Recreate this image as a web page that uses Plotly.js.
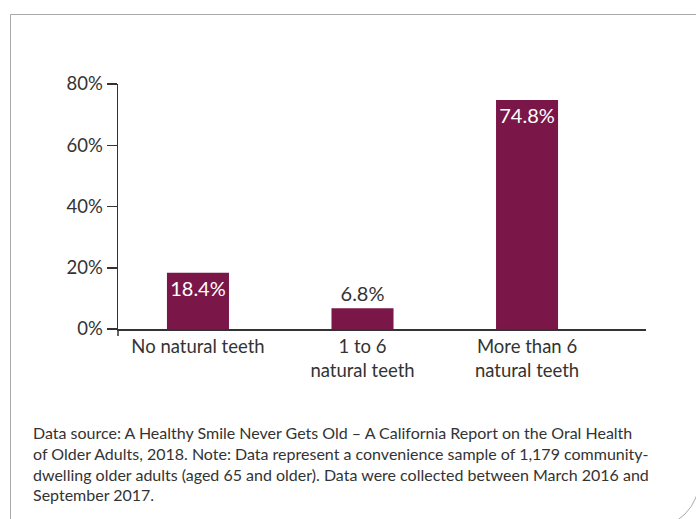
<!DOCTYPE html>
<html>
<head>
<meta charset="utf-8">
<script src="https://cdn.plot.ly/plotly-3.0.1.min.js"></script>
<style>
  html, body { margin: 0; padding: 0; width: 696px; height: 519px; overflow: hidden; background: #fff; }
  #frame {
    position: absolute; left: 10px; top: 14px; width: 690px; height: 515px;
    box-sizing: border-box; border: 1.5px solid #aaaaaa;
    border-bottom-right-radius: 50px; pointer-events: none;
  }
  #chart { position: absolute; left: 0; top: 0; width: 696px; height: 519px; }
</style>
</head>
<body>
<div id="chart"></div>
<div id="frame"></div>
<script>
// Natural teeth remaining among older adults (percent of sample)
const categories = ['No natural teeth', '1 to 6<br>natural teeth', 'More than 6<br>natural teeth'];
const percents = [18.4, 6.8, 74.8];
const yTicks = [0, 20, 40, 60, 80];
const footnote = 'Data source: A Healthy Smile Never Gets Old \u2013 A California Report on the Oral Health<br>' +
  'of Older Adults, 2018. Note: Data represent a convenience sample of 1,179 community-<br>' +
  'dwelling older adults (aged 65 and older). Data were collected between March 2016 and<br>' +
  'September 2017.';

const barColor = '#7b1748';
const ink = '#333333';
const fontFamily = 'Lato, "Open Sans", sans-serif';

const trace = {
  type: 'bar',
  x: categories,
  y: percents,
  marker: { color: barColor },
  text: percents.map(v => v.toFixed(1) + '%'),
  textposition: percents.map(v => v < 10 ? 'outside' : 'inside'),
  insidetextanchor: 'end',
  constraintext: 'none',
  textfont: { family: fontFamily, size: 20 },
  insidetextfont: { family: fontFamily, size: 20, color: '#ffffff' },
  outsidetextfont: { family: fontFamily, size: 20, color: ink },
  cliponaxis: false,
  hoverinfo: 'skip'
};

const layout = {
  width: 696,
  height: 519,
  margin: { l: 118, r: 50, t: 84, b: 190 },
  paper_bgcolor: 'rgba(0,0,0,0)',
  plot_bgcolor: 'rgba(0,0,0,0)',
  showlegend: false,
  bargap: 0.623,
  font: { family: fontFamily, size: 18, color: ink },
  xaxis: {
    type: 'category',
    range: [-0.486, 2.723],
    showline: true,
    linecolor: ink,
    linewidth: 1.5,
    ticks: '',
    showgrid: false,
    zeroline: false,
    tickfont: { family: fontFamily, size: 18.5, color: ink }
  },
  yaxis: {
    range: [0, 80],
    tickvals: yTicks,
    ticktext: yTicks.map(v => v + '%'),
    ticks: 'outside',
    ticklen: 10,
    tickwidth: 1.5,
    tickcolor: ink,
    showline: true,
    linecolor: ink,
    linewidth: 1.5,
    showgrid: false,
    zeroline: false,
    tickfont: { family: fontFamily, size: 18.5, color: ink }
  },
  shapes: [
    // short stub of the value axis below the baseline
    { type: 'line', xref: 'paper', yref: 'paper', x0: 0, x1: 0, y0: 0, y1: -7 / 245,
      line: { color: ink, width: 1.5 } }
  ],
  annotations: [
    {
      xref: 'paper', yref: 'paper',
      x: (31 - 118) / 528, y: (329 - 421) / 245,
      xanchor: 'left', yanchor: 'top', align: 'left',
      showarrow: false,
      text: footnote,
      font: { family: fontFamily, size: 16, color: ink }
    }
  ]
};

Plotly.newPlot('chart', [trace], layout, { staticPlot: true, displayModeBar: false });
</script>
</body>
</html>
